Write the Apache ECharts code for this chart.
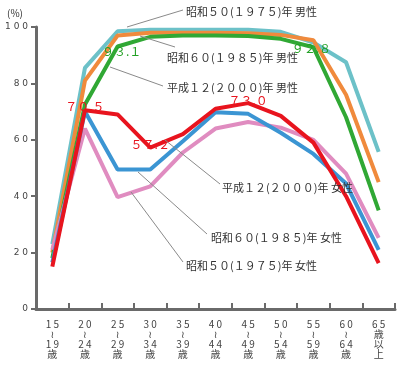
<!DOCTYPE html>
<html><head><meta charset="utf-8">
<script src="https://cdn.jsdelivr.net/npm/echarts@6/dist/echarts.min.js"></script>
<style>html,body{margin:0;padding:0;background:#fff}#c{width:397px;height:368px}</style>
</head><body><div id="c"></div>
<script>
const categories = ['15〜19歳','20〜24歳','25〜29歳','30〜34歳','35〜39歳','40〜44歳','45〜49歳','50〜54歳','55〜59歳','60〜64歳','65歳以上'];
const catTop = ['15','20','25','30','35','40','45','50','55','60','65'];
const catBottom = ['19','24','29','34','39','44','49','54','59','64',''];
const yTicks = [0,20,40,60,80,100];

const male1975 = [23, 85.5, 98.5, 99, 99, 99, 99, 98.3, 94.5, 87.5, 55.7];
const male1985 = [20, 81, 97, 98, 98, 98, 97.8, 97.2, 95.3, 76, 45];
const male2000 = [18, 72.5, 93.1, 96.5, 97, 97, 96.8, 95.8, 92.8, 68, 35];
const female1975 = [21, 64, 39.7, 43.5, 55.5, 64, 66.3, 64.3, 60, 48, 25.2];
const female1985 = [16.5, 70, 49.5, 49.5, 59.5, 69.8, 69.2, 62.5, 55, 44.5, 21];
const female2000 = [15, 70.5, 69, 57.2, 62, 71, 73.0, 68.5, 59, 40, 16.3];

const names = {
  m75:'昭和５０(１９７５)年 男性', m85:'昭和６０(１９８５)年 男性', m00:'平成１２(２０００)年 男性',
  f00:'平成１２(２０００)年 女性', f85:'昭和６０(１９８５)年 女性', f75:'昭和５０(１９７５)年 女性'
};

const FONT = "'Noto Sans CJK JP', 'DejaVu Sans', sans-serif";
function fw(s){ return String(s).replace(/[0-9]/g, d => String.fromCharCode(d.charCodeAt(0)+0xFEE0)); }
function sp(s){ return String(s).split('').join(' '); }

const chart = echarts.init(document.getElementById('c'), null, {renderer:'canvas'});

function ser(name, data, color, z, mp){
  const s = {name, type:'line', data, symbol:'none', smooth:false, z,
    lineStyle:{color, width:4}, itemStyle:{color}};
  if (mp) s.markPoint = mp;
  return s;
}
function valLabels(data, idxs, color, offsets){
  return {symbol:'circle', symbolSize:0, silent:true,
    data: idxs.map((i,k)=>({coord:[i, data[i]], value:data[i],
      label:{offset:offsets[k]}})),
    label:{show:true, position:'inside', color, fontSize:12, fontFamily:FONT,
      formatter: p => fw(p.value.toFixed(1))}};
}

const labelStyle = {fontSize:11, fill:'#333', fontFamily:FONT};
const annotations = [
  {t:names.m75, x:186, y:12, l:[127,27,183,10]},
  {t:names.m85, x:167, y:58, l:[140,36,175,47]},
  {t:names.m00, x:167, y:88, l:[110,67,163,86]},
  {t:names.f00, x:222, y:188, l:[165,140,220,184]},
  {t:names.f85, x:211, y:238, l:[138,172,207,234]},
  {t:names.f75, x:186, y:266, l:[131,192,183,262]}
];
const graphic = [];
annotations.forEach(a=>{
  graphic.push({type:'line', shape:{x1:a.l[0],y1:a.l[1],x2:a.l[2],y2:a.l[3]}, style:{stroke:'#8a8a8a', lineWidth:1}, z:50});
  graphic.push({type:'text', x:a.x, y:a.y, style:Object.assign({text:a.t, verticalAlign:'middle'}, labelStyle), z:60});
});
graphic.push({type:'text', x:7, y:13, style:{text:'(%)', fontSize:10, fill:'#333', fontFamily:FONT, verticalAlign:'middle'}});

chart.setOption({
  animation:false,
  backgroundColor:'#fff',
  grid:{left:36, right:2, top:27, bottom:59, containLabel:false},
  xAxis:{type:'category', data:categories, boundaryGap:true,
    axisLine:{lineStyle:{color:'#6a6a6a', width:3}},
    axisTick:{show:true, inside:true, length:6, lineStyle:{color:'#6a6a6a', width:2}},
    axisLabel:{interval:0, margin:10, color:'#444', fontSize:10, lineHeight:10, fontFamily:FONT,
      formatter:(v, i)=> i===10 ? sp(catTop[i])+'\n歳\n以\n上' : sp(catTop[i])+'\n≀\n'+sp(catBottom[i])+'\n歳'},
    splitLine:{show:false}},
  yAxis:{type:'value', min:yTicks[0], max:yTicks[yTicks.length-1], interval:20,
    axisLine:{show:true, lineStyle:{color:'#6a6a6a', width:3}},
    axisTick:{show:true, length:5, lineStyle:{color:'#6a6a6a', width:2}},
    axisLabel:{color:'#444', fontSize:9, margin:8, fontFamily:"'DejaVu Sans', sans-serif",
      formatter:v=>sp(v)},
    splitLine:{show:false}},
  series:[
    ser(names.m75, male1975, '#6cc1c8', 2),
    ser(names.m85, male1985, '#f08a3c', 3),
    ser(names.m00, male2000, '#30a834', 4, valLabels(male2000, [2,8], '#22a024', [[4,5],[-2,1]])),
    ser(names.f75, female1975, '#e08cc0', 5),
    ser(names.f85, female1985, '#3b95d3', 6),
    ser(names.f00, female2000, '#e8141e', 7, valLabels(female2000, [1,3,6], '#e8141e', [[0,-4],[0,-3],[0,-3]]))
  ],
  graphic
});
</script></body></html>
